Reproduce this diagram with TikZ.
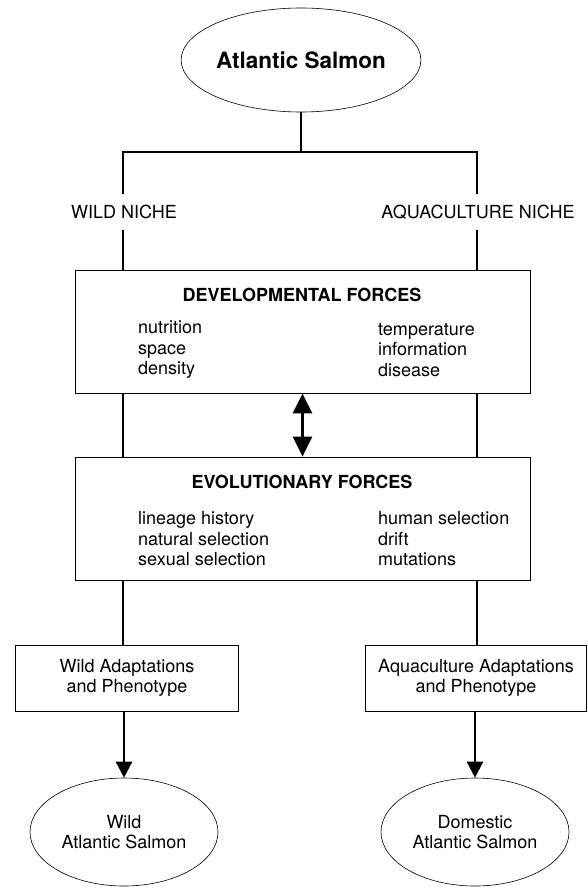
\documentclass[tikz,border=0pt]{standalone}
\usepackage{fontspec}
\setmainfont{TeX Gyre Heros}
\usetikzlibrary{arrows.meta,shapes.geometric,backgrounds}
\tikzset{
	blk/.style={draw, line width=0.8pt, fill=white, inner sep=0pt,
		font=\fontsize{18}{20.5}\selectfont},
	bigbox/.style={blk, minimum width=455pt, minimum height=123pt},
	smallbox/.style={blk, minimum width=223pt, minimum height=66pt, align=center},
	salm/.style={draw, ellipse, line width=0.6pt, fill=white, inner sep=0pt,
		align=center, font=\fontsize{18}{20.5}\selectfont},
	ttl/.style={inner sep=0pt, font=\fontsize{18}{20}\selectfont\bfseries},
	itm/.style={align=left, anchor=west, inner sep=0pt,
		font=\fontsize{18}{20.5}\selectfont},
	niche/.style={fill=white, inner xsep=2pt, inner ysep=0pt, minimum height=36pt,
		font=\fontsize{18}{20}\selectfont},
	link/.style={line width=2.4pt},
	flow/.style={link, -{Triangle[width=16pt,length=16pt]}},
	both/.style={link, {Triangle[width=19pt,length=20pt]}-{Triangle[width=19pt,length=20pt]}},
}

\begin{document}
\begin{tikzpicture}[x=1pt, y=-1pt]
	\useasboundingbox (0,0) rectangle (587,888);
	% origin
	\node[salm, minimum width=217pt, minimum height=104pt,
		font=\fontsize{22.5}{26}\selectfont\bfseries] at (301,60) (salmon) {Atlantic Salmon};
	\coordinate (lt) at (123,152);
	\coordinate (rt) at (477,152);
	\node[niche] at (124,212) (wild) {WILD NICHE};
	\node[niche] at (478,212) (aqua) {AQUACULTURE NICHE};
	% forces
	\node[bigbox] at (302.5,331.5) (dev) {};
	\node[ttl] at (302,295) (devt) {DEVELOPMENTAL FORCES};
	\node[itm] at (138,350) (devl) {nutrition\\space\\density};
	\node[itm] at (378,350) (devr) {temperature\\information\\disease};
	\node[bigbox] at (302.5,518.5) (evo) {};
	\node[ttl] at (302,482) (evot) {EVOLUTIONARY FORCES};
	\node[itm] at (138,539) (evol) {lineage history\\natural selection\\sexual selection};
	\node[itm] at (378,539) (evor) {human selection\\drift\\mutations};
	% outcomes
	\node[smallbox] at (127,678) (wildad) {Wild Adaptations\\and Phenotype};
	\node[smallbox, minimum width=221pt] at (476,678) (aquaad) {Aquaculture Adaptations\\and Phenotype};
	\node[salm, minimum width=188pt, minimum height=108pt] at (124,832) (wsal) {Wild\\Atlantic Salmon};
	\node[salm, minimum width=188pt, minimum height=108pt] at (475,832) (dsal) {Domestic\\Atlantic Salmon};
	\begin{scope}[on background layer]
		\draw[link] (salmon) -- (salmon |- lt);
		\draw[link] (lt |- wildad.north) -- (lt) -- (rt) -- (rt |- aquaad.north);
	\end{scope}
	\draw[both] (dev.south) -- (evo.north);
	\draw[flow] (wildad.south -| wsal) -- (wsal.north);
	\draw[flow] (aquaad.south -| dsal) -- (dsal.north);
\end{tikzpicture}
\end{document}
